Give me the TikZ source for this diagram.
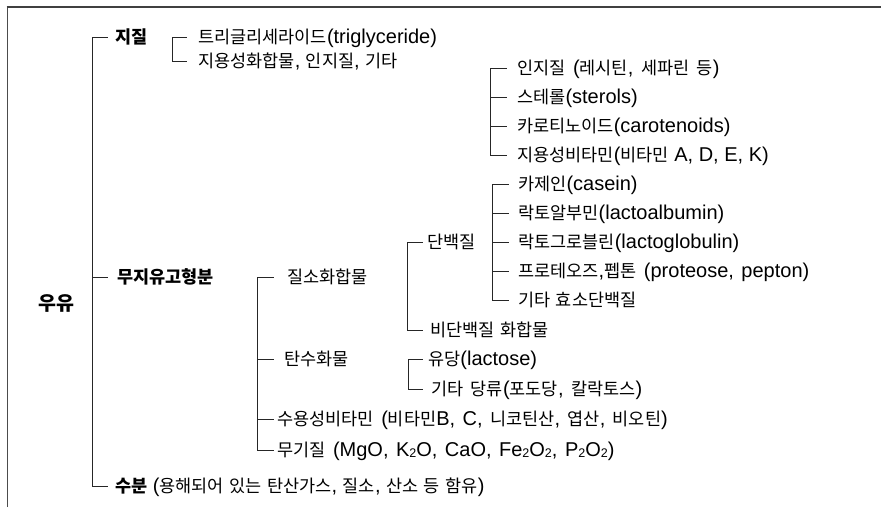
\documentclass[tikz,border=0pt]{standalone}
\usepackage{fontspec}
\setmainfont{Liberation Sans}
\newfontfamily\krfont{Noto Sans CJK KR}[Scale=0.875]
% automatic switch: Hangul syllables in Noto Sans CJK KR, the rest in Liberation Sans
\XeTeXinterchartokenstate=1
\newXeTeXintercharclass\hangulclass
\newcount\hgc
\hgc="AC00
\loop \XeTeXcharclass\hgc=\hangulclass \ifnum\hgc<"D7A3 \advance\hgc by 1 \repeat
\XeTeXinterchartoks 0 \hangulclass = {\krfont}
\XeTeXinterchartoks 4095 \hangulclass = {\krfont}
\XeTeXinterchartoks \hangulclass 0 = {\rmfamily}
\XeTeXinterchartoks \hangulclass 4095 = {\rmfamily}
\newcommand\sbtwo{\raisebox{-1pt}{\fontsize{12.5}{12.5}\selectfont 2}}
\newcommand\widespaces{\spaceskip=7.5pt plus 1pt minus 1pt\relax}
\begin{document}
\begin{tikzpicture}[x=1pt,y=-1pt,
  lbl/.style={anchor=west,inner sep=0pt,text height=13pt,text depth=0pt,font=\fontsize{20}{20}\selectfont},
  hd/.style={lbl,font=\fontsize{20}{20}\selectfont\bfseries},
  wide/.style={execute at begin node=\widespaces},
  br/.style={line width=0.9pt,black!85},
  topline/.style={line width=1.6pt,black!75},
  sideline/.style={line width=1pt,black!70}]
\useasboundingbox (0,0) rectangle (881,507);
% frame
\coordinate (fb) at (7,507);
\coordinate (ftl) at (7,7);
\coordinate (ftr) at (881,7);
\draw[sideline] (fb) -- (ftl);
\draw[topline] ([xshift=-0.5pt]ftl) -- (ftr);

% level 0/1
\node[hd,font=\fontsize{22.3}{22.3}\selectfont\bfseries] (uu) at (38,304) {우유};
\node[hd] (jj) at (115,37) {지질};
\node[hd] (mu) at (117,277) {무지유고형분};
\node[lbl] (wat) at (115,486) {\textbf{수분} (용해되어 있는 탄산가스, 질소, 산소 등 함유)};
\coordinate (m) at (92,0);
\draw[br] (m |- jj.west) -- (m |- wat.west);
\foreach \n in {jj,mu,wat} \draw[br] (m |- \n.west) -- ++(16,0);

% 지질 children
\node[lbl] (tri) at (198,37) {트리글리세라이드(triglyceride)};
\node[lbl] (jy) at (198,61) {지용성화합물, 인지질, 기타};
\coordinate (s1) at (172,0);
\draw[br] (s1 |- tri.west) -- (s1 |- jy.west);
\foreach \n in {tri,jy} \draw[br] (s1 |- \n.west) -- ++(15,0);

% 지용성화합물 children
\node[lbl,wide] (in) at (517,68) {인지질 (레시틴, 세파린 등)};
\node[lbl] (st) at (517,97) {스테롤(sterols)};
\node[lbl] (ca) at (517,126) {카로티노이드(carotenoids)};
\node[lbl] (vit) at (517,155) {지용성비타민(비타민 A, D, E, K)};
\coordinate (s2) at (490,0);
\draw[br] (s2 |- in.west) -- (s2 |- vit.west);
\foreach \n in {in,st,ca,vit} \draw[br] (s2 |- \n.west) -- ++(17,0);

% 무지유고형분 children
\node[lbl] (nit) at (287,277) {질소화합물};
\node[lbl] (tan) at (284,359) {탄수화물};
\node[lbl,wide] (su) at (277,419) {수용성비타민 (비타민B, C, 니코틴산, 엽산, 비오틴)};
\node[lbl,wide] (mg) at (277,450) {무기질 (MgO, K\sbtwo O, CaO, Fe\sbtwo O\sbtwo, P\sbtwo O\sbtwo)};
\coordinate (s3) at (257,0);
\draw[br] (s3 |- nit.west) -- (s3 |- mg.west);
\foreach \n in {nit,tan,su,mg} \draw[br] (s3 |- \n.west) -- ++(17,0);

% 질소화합물 children
\node[lbl] (dan) at (427,242) {단백질};
\node[lbl] (non) at (430,330) {비단백질 화합물};
\coordinate (s4) at (407,0);
\draw[br] (s4 |- dan.west) -- (s4 |- non.west);
\foreach \n in {dan,non} \draw[br] (s4 |- \n.west) -- ++(16,0);

% 단백질 children
\node[lbl] (cas) at (518,184) {카제인(casein)};
\node[lbl] (alb) at (518,213) {락토알부민(lactoalbumin)};
\node[lbl] (glo) at (518,242) {락토그로블린(lactoglobulin)};
\node[lbl,wide] (pro) at (518,271) {프로테오즈,펩톤 (proteose, pepton)};
\node[lbl] (etc) at (518,300) {기타 효소단백질};
\coordinate (s5) at (492,0);
\draw[br] (s5 |- cas.west) -- (s5 |- etc.west);
\foreach \n in {cas,alb,glo,pro,etc} \draw[br] (s5 |- \n.west) -- ++(17,0);

% 탄수화물 children
\node[lbl] (lac) at (428,359) {유당(lactose)};
\node[lbl,wide] (oth) at (431,389) {기타 당류(포도당, 칼락토스)};
\coordinate (s6) at (408,0);
\draw[br] (s6 |- lac.west) -- (s6 |- oth.west);
\foreach \n in {lac,oth} \draw[br] (s6 |- \n.west) -- ++(15,0);
\end{tikzpicture}
\end{document}
